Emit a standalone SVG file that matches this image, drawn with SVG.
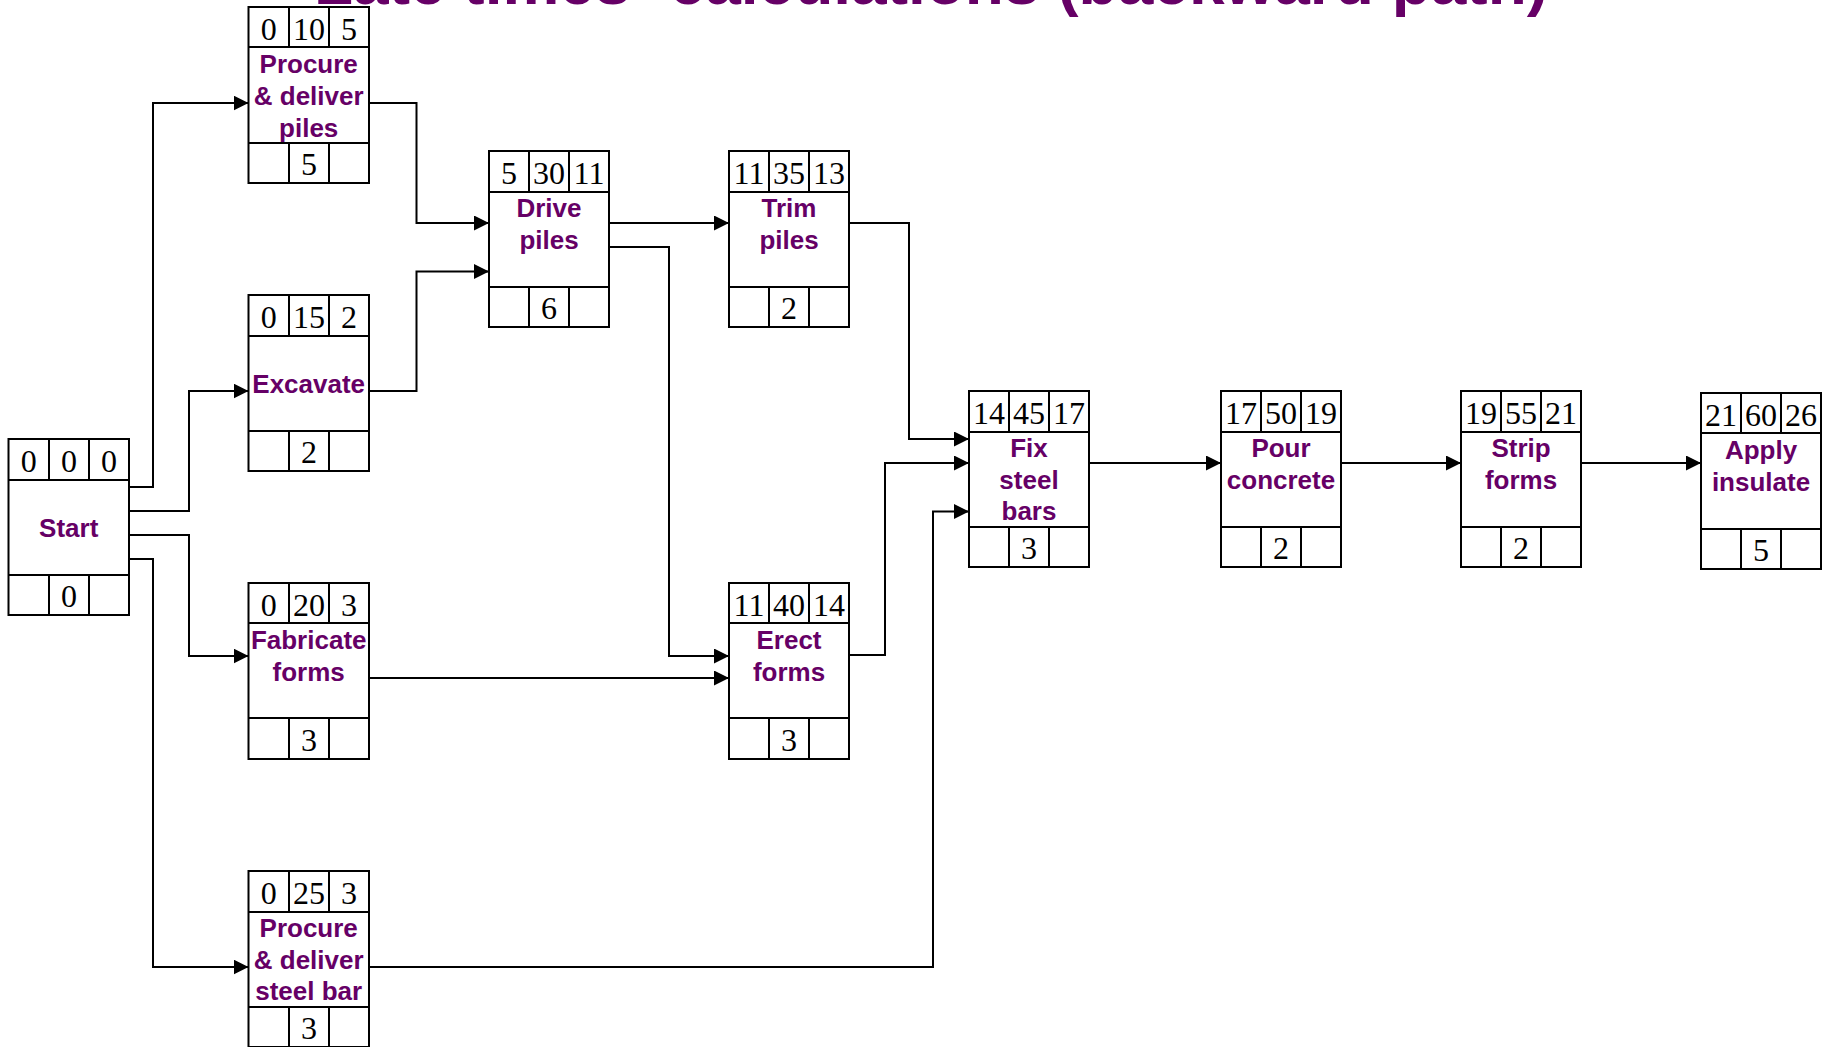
<svg xmlns="http://www.w3.org/2000/svg" width="1831" height="1047" viewBox="0 0 1831 1047">
<defs>
<style>
.box{fill:#fff;stroke:#000;stroke-width:2}
.div{stroke:#000;stroke-width:2;fill:none}
.num{font-family:"Liberation Serif","Times New Roman",serif;font-size:32px;fill:#000;text-anchor:middle}
.lbl{font-family:"Liberation Sans",Arial,sans-serif;font-size:26px;font-weight:bold;fill:#660066;text-anchor:middle}
.title{font-family:"Liberation Sans",Arial,sans-serif;font-size:64px;font-weight:bold;fill:#660066;text-anchor:middle}
.con{fill:none;stroke:#000;stroke-width:2;marker-end:url(#ah)}
</style>
<marker id="ah" markerWidth="15" markerHeight="15" refX="15" refY="7.5" orient="auto" markerUnits="userSpaceOnUse">
<path d="M0,0 L15,7.5 L0,15 z" fill="#000"/>
</marker>
</defs>
<rect width="1831" height="1047" fill="#fff"/>
<text class="title" x="931" y="4">Late times- calculations (backward path)</text>

<g id="connectors">
<path class="con" d="M129,487 H153 V103 H248.5"/>
<path class="con" d="M129,511 H189 V391 H248.5"/>
<path class="con" d="M129,535 H189 V656 H248.5"/>
<path class="con" d="M129,559 H153 V967 H248.5"/>
<path class="con" d="M369,103 H416.5 V223 H489"/>
<path class="con" d="M369,391 H416.5 V271.5 H489"/>
<path class="con" d="M609,223 H729"/>
<path class="con" d="M609,247 H669 V656 H729"/>
<path class="con" d="M369,678 H729"/>
<path class="con" d="M849,223 H909 V439 H969"/>
<path class="con" d="M849,655 H885 V463 H969"/>
<path class="con" d="M369,967 H933 V511.5 H969"/>
<path class="con" d="M1089,463 H1221"/>
<path class="con" d="M1341,463 H1461"/>
<path class="con" d="M1581,463 H1701"/>
</g>

<g id="start">
<rect class="box" x="8.5" y="439" width="120.5" height="176"/>
<path class="div" d="M8.5,480 H129 M8.5,575 H129 M49,439 V480 M89,439 V480 M49,575 V615 M89,575 V615"/>
<text class="num" x="28.7" y="472">0</text><text class="num" x="69" y="472">0</text><text class="num" x="109" y="472">0</text>
<text class="lbl" x="68.7" y="537">Start</text>
<text class="num" x="69" y="607">0</text>
</g>

<g id="procure-piles">
<rect class="box" x="248.5" y="7" width="120.5" height="176"/>
<path class="div" d="M248.5,47 H369 M248.5,143 H369 M289,7 V47 M329,7 V47 M289,143 V183 M329,143 V183"/>
<text class="num" x="268.7" y="40">0</text><text class="num" x="309" y="40">10</text><text class="num" x="349" y="40">5</text>
<text class="lbl" x="308.7" y="73">Procure</text>
<text class="lbl" x="308.7" y="105">&amp; deliver</text>
<text class="lbl" x="308.7" y="137">piles</text>
<text class="num" x="309" y="175">5</text>
</g>

<g id="excavate">
<rect class="box" x="248.5" y="295" width="120.5" height="176"/>
<path class="div" d="M248.5,336 H369 M248.5,431 H369 M289,295 V336 M329,295 V336 M289,431 V471 M329,431 V471"/>
<text class="num" x="268.7" y="328">0</text><text class="num" x="309" y="328">15</text><text class="num" x="349" y="328">2</text>
<text class="lbl" x="308.7" y="393">Excavate</text>
<text class="num" x="309" y="463">2</text>
</g>

<g id="fabricate">
<rect class="box" x="248.5" y="583" width="120.5" height="176"/>
<path class="div" d="M248.5,623 H369 M248.5,718 H369 M289,583 V623 M329,583 V623 M289,718 V759 M329,718 V759"/>
<text class="num" x="268.7" y="616">0</text><text class="num" x="309" y="616">20</text><text class="num" x="349" y="616">3</text>
<text class="lbl" x="308.7" y="649">Fabricate</text>
<text class="lbl" x="308.7" y="681">forms</text>
<text class="num" x="309" y="751">3</text>
</g>

<g id="procure-steel">
<rect class="box" x="248.5" y="871" width="120.5" height="176"/>
<path class="div" d="M248.5,912 H369 M248.5,1007 H369 M289,871 V912 M329,871 V912 M289,1007 V1047 M329,1007 V1047"/>
<text class="num" x="268.7" y="904">0</text><text class="num" x="309" y="904">25</text><text class="num" x="349" y="904">3</text>
<text class="lbl" x="308.7" y="937">Procure</text>
<text class="lbl" x="308.7" y="969">&amp; deliver</text>
<text class="lbl" x="308.7" y="1000">steel bar</text>
<text class="num" x="309" y="1039">3</text>
</g>

<g id="drive">
<rect class="box" x="489" y="151" width="120" height="176"/>
<path class="div" d="M489,192 H609 M489,287 H609 M529,151 V192 M569,151 V192 M529,287 V327 M569,287 V327"/>
<text class="num" x="509" y="184">5</text><text class="num" x="549" y="184">30</text><text class="num" x="589" y="184">11</text>
<text class="lbl" x="549" y="217">Drive</text>
<text class="lbl" x="549" y="249">piles</text>
<text class="num" x="549" y="319">6</text>
</g>

<g id="trim">
<rect class="box" x="729" y="151" width="120" height="176"/>
<path class="div" d="M729,192 H849 M729,287 H849 M769,151 V192 M809,151 V192 M769,287 V327 M809,287 V327"/>
<text class="num" x="749" y="184">11</text><text class="num" x="789" y="184">35</text><text class="num" x="829" y="184">13</text>
<text class="lbl" x="789" y="217">Trim</text>
<text class="lbl" x="789" y="249">piles</text>
<text class="num" x="789" y="319">2</text>
</g>

<g id="erect">
<rect class="box" x="729" y="583" width="120" height="176"/>
<path class="div" d="M729,623 H849 M729,718 H849 M769,583 V623 M809,583 V623 M769,718 V759 M809,718 V759"/>
<text class="num" x="749" y="616">11</text><text class="num" x="789" y="616">40</text><text class="num" x="829" y="616">14</text>
<text class="lbl" x="789" y="649">Erect</text>
<text class="lbl" x="789" y="681">forms</text>
<text class="num" x="789" y="751">3</text>
</g>

<g id="fix">
<rect class="box" x="969" y="391" width="120" height="176"/>
<path class="div" d="M969,432 H1089 M969,527 H1089 M1009,391 V432 M1049,391 V432 M1009,527 V567 M1049,527 V567"/>
<text class="num" x="989" y="424">14</text><text class="num" x="1029" y="424">45</text><text class="num" x="1069" y="424">17</text>
<text class="lbl" x="1029" y="457">Fix</text>
<text class="lbl" x="1029" y="489">steel</text>
<text class="lbl" x="1029" y="520">bars</text>
<text class="num" x="1029" y="559">3</text>
</g>

<g id="pour">
<rect class="box" x="1221" y="391" width="120" height="176"/>
<path class="div" d="M1221,432 H1341 M1221,527 H1341 M1261,391 V432 M1301,391 V432 M1261,527 V567 M1301,527 V567"/>
<text class="num" x="1241" y="424">17</text><text class="num" x="1281" y="424">50</text><text class="num" x="1321" y="424">19</text>
<text class="lbl" x="1281" y="457">Pour</text>
<text class="lbl" x="1281" y="489">concrete</text>
<text class="num" x="1281" y="559">2</text>
</g>

<g id="strip">
<rect class="box" x="1461" y="391" width="120" height="176"/>
<path class="div" d="M1461,432 H1581 M1461,527 H1581 M1501,391 V432 M1541,391 V432 M1501,527 V567 M1541,527 V567"/>
<text class="num" x="1481" y="424">19</text><text class="num" x="1521" y="424">55</text><text class="num" x="1561" y="424">21</text>
<text class="lbl" x="1521" y="457">Strip</text>
<text class="lbl" x="1521" y="489">forms</text>
<text class="num" x="1521" y="559">2</text>
</g>

<g id="apply">
<rect class="box" x="1701" y="393" width="120" height="176"/>
<path class="div" d="M1701,433 H1821 M1701,529 H1821 M1741,393 V433 M1781,393 V433 M1741,529 V569 M1781,529 V569"/>
<text class="num" x="1721" y="426">21</text><text class="num" x="1761" y="426">60</text><text class="num" x="1801" y="426">26</text>
<text class="lbl" x="1761" y="459">Apply</text>
<text class="lbl" x="1761" y="491">insulate</text>
<text class="num" x="1761" y="561">5</text>
</g>
</svg>
